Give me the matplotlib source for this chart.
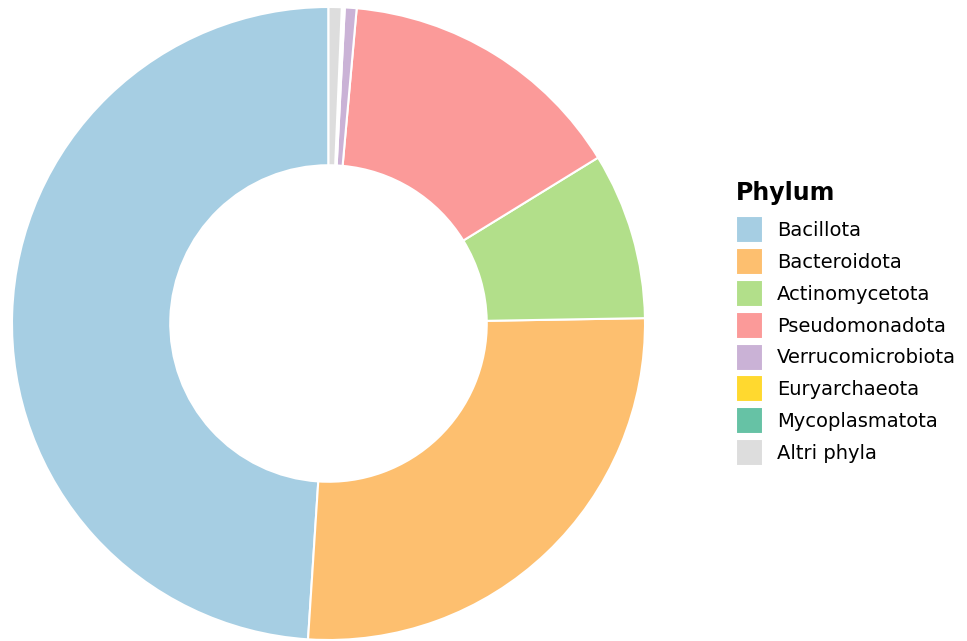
import matplotlib
matplotlib.use("Agg")
import matplotlib.pyplot as plt

# phylum relative abundance (%)
phyla = ["Bacillota", "Bacteroidota", "Actinomycetota", "Pseudomonadota",
         "Verrucomicrobiota", "Euryarchaeota", "Mycoplasmatota", "Altri phyla"]
abundance = [48.97, 26.30, 8.51, 14.80, 0.60, 0.08, 0.07, 0.67]
colors = ["#a6cee3", "#fdbf6f", "#b2df8a", "#fb9a99",
          "#cab2d6", "#ffd92f", "#66c2a5", "#dddddd"]

fig = plt.figure(figsize=(9.67, 6.41), dpi=100)
ax = fig.add_axes([12 / 967, 1 / 641, 633 / 967, 633 / 641])

wedges, _ = ax.pie(abundance, colors=colors, startangle=90, counterclock=True,
                   radius=1.0,
                   wedgeprops=dict(width=0.5, edgecolor="white", linewidth=1.5))
ax.set_xlim(-1, 1)
ax.set_ylim(-1, 1)
ax.set_aspect("equal")
ax.axis("off")

leg = fig.legend(wedges, phyla, title="Phylum", loc="upper left",
                 bbox_to_anchor=(736 / 967, 1 - 181 / 641), borderaxespad=0,
                 borderpad=0, frameon=False, fontsize=14,
                 title_fontproperties={"weight": "bold", "size": 17},
                 handlelength=1.4, handleheight=1.76, handletextpad=0.7,
                 labelspacing=0.25, alignment="left")
# a bit more room under the title
leg._legend_box.sep = 8

fig.savefig("out.png", dpi=100)
